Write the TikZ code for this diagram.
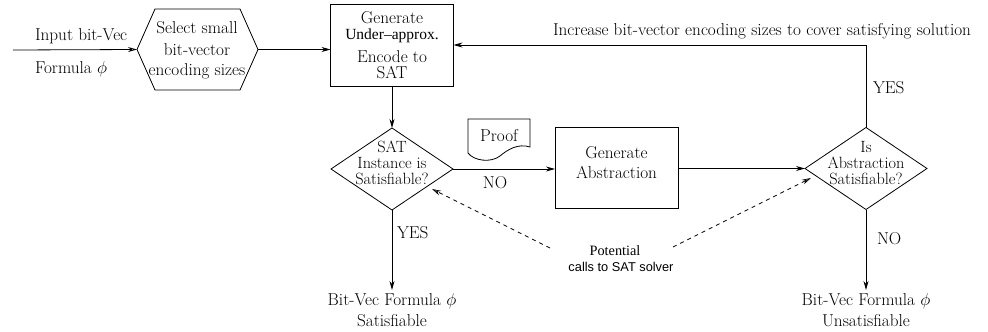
\RequirePackage{fix-cm}
\documentclass[tikz,border=0pt]{standalone}
\usepackage{fontspec}
\newfontfamily\myserif{Liberation Serif}
\newfontfamily\mysans{Liberation Sans}
\usetikzlibrary{arrows.meta,shapes.geometric,calc}
\begin{document}
\begin{tikzpicture}[x=1pt,y=-1pt, line width=0.8pt,
  every node/.style={font=\fontsize{17.2}{18}\selectfont, inner sep=0pt, outer sep=0pt},
  arr/.style={-{Stealth[length=9pt,width=5pt]}},
  oarr/.style={-{Stealth[open,length=9pt,width=5pt]}},
  dasharr/.style={dash pattern=on 4pt off 4pt, -{Stealth[open,length=9pt,width=5pt]}},
  boxnode/.style={draw, rectangle, minimum width=123pt, minimum height=82pt},
  decision/.style={draw, diamond, minimum width=122pt, minimum height=82pt},
  t/.style={anchor=base},
  tw/.style={anchor=base west},
  dtext/.style={anchor=base, font=\fontsize{16.3}{17}\selectfont},
  smallserif/.style={font={\fontsize{15.5}{17}\selectfont\myserif}},
  potserif/.style={font={\fontsize{14.3}{16}\selectfont\myserif}},
  smallsans/.style={font={\fontsize{12.8}{15}\selectfont\mysans}}]
\useasboundingbox (0,0) rectangle (988,332);

% shapes
\node (hex) [minimum width=121pt, minimum height=81pt] at (197.5,49.5) {};
\draw (hex.west) -- ($(hex.north west)+(18,0)$) -- ($(hex.north east)+(-18,0)$)
  -- (hex.east) -- ($(hex.south east)+(-18,0)$) -- ($(hex.south west)+(18,0)$) -- cycle;
\node (box1) [boxnode] at (392,45) {};
\node (d1) [decision] at (392,169) {};
\node (box2) [boxnode, minimum height=81pt] at (616.5,167.5) {};
\node (d2) [decision] at (866,168.5) {};
\node (proof) [minimum width=62pt, minimum height=34pt] at (499,136) {};
\draw (468,153) -- (468,119) -- (530,119) -- (530,147)
  .. controls (518,143) and (507,150) .. (500,156)
  .. controls (491,163) and (474,161) .. (468,153);

% texts
\node[t] (s1) at (197,34) {Select small};
\node[t] (s2) at (197,55) {bit-vector};
\node[t] (s3) at (197,75) {encoding sizes};
\node[tw] (in1) at (35,40) {Input bit-Vec};
\node[tw] (in2) at (35,73) {Formula $\phi$};
\node[t] (g1) at (392,23.5) {Generate};
\node[t, smallserif] (g2) at (392,39.5) {Under–approx.};
\node[t] (g3) at (392,62) {Encode to};
\node[t] (g4) at (392,78) {SAT};
\node[t] (inc) at (762,35.5) {Increase bit-vector encoding sizes to cover satisfying solution};
\node[tw] (yes1) at (873,93.5) {YES};
\node[dtext] (q1) at (392,152) {SAT};
\node[dtext] (q2) at (392,168) {Instance is};
\node[dtext] (q3) at (392,184) {Satisfiable?};
\node[t] (pf) at (499,141) {Proof};
\node[t] (no1) at (495,188.5) {NO};
\node[t] (a1) at (616.5,158.5) {Generate};
\node[t] (a2) at (616.5,178.5) {Abstraction};
\node[dtext] (r1) at (866,152) {Is};
\node[dtext] (r2) at (866,168) {Abstraction};
\node[dtext] (r3) at (866,184) {Satisfiable?};
\node[tw] (no2) at (877,244.5) {NO};
\node[tw] (yes2) at (397,238.5) {YES};
\node[t] (sat1) at (392,305.5) {Bit-Vec Formula $\phi$};
\node[t] (sat2) at (392,326) {Satisfiable};
\node[t] (uns1) at (866,305.5) {Bit-Vec Formula $\phi$};
\node[t] (uns2) at (866,326) {Unsatisfiable};
\node[t, potserif] (pot1) at (615,255) {Potential};
\node[t, smallsans] (pot2) at (621,271) {calls to SAT solver};

% coordinates
\coordinate (instart) at (13,50);
\coordinate (satend) at (392,290);
\coordinate (unsend) at (866,290);
\coordinate (dl) at (550,248);
\coordinate (dr) at (673,247);
\coordinate (tl) at (432,189);
\coordinate (tr) at (811,178);

% connectors
\draw[oarr] (instart) -- (hex.west);
\draw[arr] (hex.east) -- (hex.east -| box1.west);
\draw[arr] (box1.south) -- (d1.north);
\draw[arr] (d1.east) -- (box2.west |- d1.east);
\draw[arr] (box2.east |- d2.west) -- (d2.west);
\draw[arr] (d2.north) -- (d2.north |- box1.east) -- (box1.east);
\draw[arr] (d1.south) -- (satend);
\draw[arr] (d2.south) -- (unsend);
\draw[dasharr] (dl) -- (tl);
\draw[dasharr] (dr) -- (tr);
\end{tikzpicture}
\end{document}
